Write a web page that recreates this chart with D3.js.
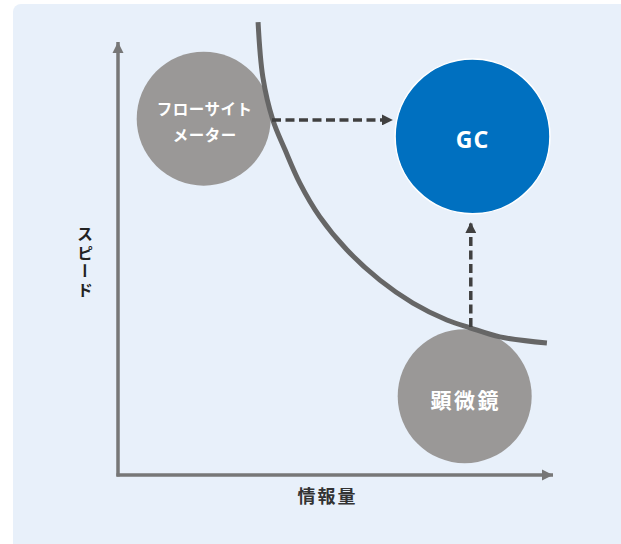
<!DOCTYPE html>
<html><head><meta charset="utf-8">
<script src="https://cdn.jsdelivr.net/npm/d3@7"></script>
<style>
html,body{margin:0;padding:0;background:#fff;}
svg{display:block;}
text{font-family:"Noto Sans CJK JP","Noto Sans",sans-serif;}
</style></head>
<body><div id="chart"></div>
<script>
// Conceptual data (x: 情報量 0-100, y: スピード 0-100)
const axisLabels = { x: "情報量", y: "スピード" };
const nodeNames = ["フローサイト\nメーター", "GC", "顕微鏡"];
const nodeX = [19.7, 81.5, 79.7];
const nodeY = [82.3, 78.2, 18.2];
const nodeR = [15.4, 17.8, 15.4];
const nodeKind = ["gray", "blue", "gray"];
const curveX = [32.2, 33.3, 35.6, 38.4, 41.8, 46.4, 52.6, 60.2, 67.8, 75.6, 80.9, 87.8, 98.6];
const curveY = [104.6, 91.9, 82.0, 75.1, 67.4, 59.6, 52.0, 45.0, 39.7, 35.8, 34.0, 31.9, 30.5];
const arrowFrom = [[35.4, 82.0], [81.1, 34.2]];
const arrowTo = [[63.2, 82.0], [81.1, 58.4]];

const W = 621, H = 544;
const svg = d3.select("#chart").append("svg").attr("width", W).attr("height", H);

svg.append("rect").attr("x", 13).attr("y", 4).attr("width", W + 20).attr("height", H + 20)
  .attr("rx", 8).attr("fill", "#e8f0fa");

const x = d3.scaleLinear().domain([0, 100]).range([118, 553]);
const y = d3.scaleLinear().domain([0, 100]).range([475, 42]);
const rs = v => x(v) - x(0);

const defs = svg.append("defs");
function marker(id, color, w, h) {
  defs.append("marker").attr("id", id).attr("viewBox", "0 0 10 10")
    .attr("refX", 10).attr("refY", 5).attr("markerUnits", "userSpaceOnUse")
    .attr("markerWidth", w).attr("markerHeight", h).attr("orient", "auto")
    .append("path").attr("d", "M0,0 L10,5 L0,10 Z").attr("fill", color);
}
marker("axHead", "#777", 11, 12);
marker("dashHead", "#404040", 11, 11);

// axes
const axisColor = "#777";
svg.append("line").attr("x1", x(0)).attr("y1", y(0) + 1.5).attr("x2", x(0)).attr("y2", y(100))
  .attr("stroke", axisColor).attr("stroke-width", 3.5).attr("marker-end", "url(#axHead)");
svg.append("line").attr("x1", x(0) - 1.5).attr("y1", y(0)).attr("x2", x(100)).attr("y2", y(0))
  .attr("stroke", axisColor).attr("stroke-width", 3.5).attr("marker-end", "url(#axHead)");

// axis labels
svg.append("text").attr("x", x(50) - 8).attr("y", 503).attr("text-anchor", "middle")
  .attr("font-size", 18).attr("font-weight", 700).attr("letter-spacing", 2).attr("fill", "#333")
  .text(axisLabels.x);
svg.append("text").attr("x", 85).attr("y", 226)
  .style("writing-mode", "vertical-rl")
  .attr("font-size", 16).attr("font-weight", 700).attr("letter-spacing", 2.5).attr("fill", "#222")
  .text(axisLabels.y);

// nodes
const nodes = nodeNames.map((n, i) => ({ name: n, x: nodeX[i], y: nodeY[i], r: nodeR[i], kind: nodeKind[i] }));
svg.selectAll("circle.node").data(nodes).join("circle").attr("class", "node")
  .attr("cx", d => x(d.x)).attr("cy", d => y(d.y)).attr("r", d => rs(d.r))
  .attr("fill", d => d.kind === "blue" ? "#0070c0" : "#9a9897")
  .attr("stroke", d => d.kind === "blue" ? "#fff" : "none").attr("stroke-width", 1.5);

// curve
const pts = curveX.map((v, i) => [x(v), y(curveY[i])]);
svg.append("path").attr("d", d3.line().curve(d3.curveCatmullRom.alpha(0.5))(pts))
  .attr("fill", "none").attr("stroke", "#666").attr("stroke-width", 5);

// dashed arrows
arrowFrom.forEach((f, i) => {
  const t = arrowTo[i];
  svg.append("line").attr("x1", x(f[0])).attr("y1", y(f[1])).attr("x2", x(t[0])).attr("y2", y(t[1]))
    .attr("stroke", "#404040").attr("stroke-width", 3.5).attr("stroke-dasharray", "9,4.5")
    .attr("marker-end", "url(#dashHead)");
});

// node labels
const lab = svg.selectAll("text.node").data(nodes).join("text").attr("class", "node")
  .attr("text-anchor", "middle").attr("fill", "#fff").attr("font-weight", 700);
lab.each(function(d) {
  const t = d3.select(this);
  const lines = d.name.split("\n");
  if (lines.length > 1) {
    t.attr("font-size", 15.5).attr("letter-spacing", 0.5);
    lines.forEach((l, k) => t.append("tspan").attr("x", x(d.x) + 1).attr("y", y(d.y) - 4 + k * 26).text(l));
  } else if (d.kind === "blue") {
    t.attr("x", x(d.x)).attr("y", y(d.y) + 12).attr("font-size", 23).attr("letter-spacing", 1)
      .style("font-family", "'Noto Sans','Liberation Sans',sans-serif").text(d.name);
  } else {
    t.attr("x", x(d.x) + 1).attr("y", y(d.y) + 12).attr("font-size", 21).attr("letter-spacing", 2.5).text(d.name);
  }
});
</script></body></html>
